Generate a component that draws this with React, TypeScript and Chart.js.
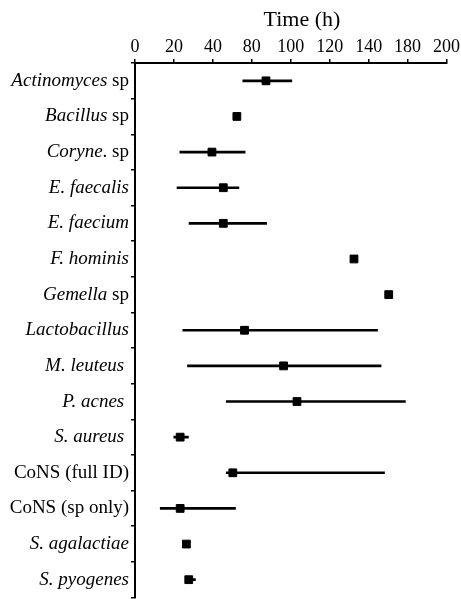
import React, { useEffect, useRef } from "react";
import { Chart, registerables } from "chart.js";

Chart.register(...registerables);

// Categories (full text) and their italic leading part
const categories = [
  "Actinomyces sp",
  "Bacillus sp",
  "Coryne. sp",
  "E. faecalis",
  "E. faecium",
  "F. hominis",
  "Gemella sp",
  "Lactobacillus",
  "M. leuteus ",
  "P. acnes ",
  "S. aureus ",
  "CoNS (full ID)",
  "CoNS (sp only)",
  "S. agalactiae",
  "S. pyogenes",
];
const italicParts = [
  "Actinomyces",
  "Bacillus",
  "Coryne",
  "E. faecalis",
  "E. faecium",
  "F. hominis",
  "Gemella",
  "Lactobacillus",
  "M. leuteus",
  "P. acnes",
  "S. aureus",
  "",
  "",
  "S. agalactiae",
  "S. pyogenes",
];

// Values in axis position units (axis 0..200, ticks every 25)
const medians = [84.1, 65.4, 49.4, 56.7, 56.7, 140.6, 162.9, 70.3, 95.4, 104.0, 29.0, 62.8, 29.0, 33.0, 34.5];
const lows = [69.2, null, 28.8, 27.0, 34.7, null, null, 30.7, 33.7, 58.6, 24.9, 58.6, 16.2, null, 33.0];
const highs = [100.7, null, 70.7, 66.7, 84.5, null, null, 155.7, 158.0, 173.6, 34.3, 160.2, 64.5, null, 38.8];

const tickLabels = ["0", "20", "40", "80", "100", "120", "140", "180", "200"];
const axisTitle = "Time (h)";

const FONT = "'Liberation Serif', 'Times New Roman', serif";

export default function App() {
  const ref = useRef<HTMLCanvasElement | null>(null);

  useEffect(() => {
    const canvas = ref.current;
    if (!canvas) return;

    const labelPlugin = {
      id: "labelPlugin",
      afterDraw(chart: any) {
        const ctx = chart.ctx;
        const yScale = chart.scales.y;
        ctx.save();
        ctx.fillStyle = "#000";
        ctx.textBaseline = "middle";
        ctx.textAlign = "right";
        const rightX = 129;
        categories.forEach((cat, i) => {
          const y = yScale.getPixelForValue(i);
          const ital = italicParts[i];
          const plain = cat.slice(ital.length);
          ctx.font = `19px ${FONT}`;
          const pw = plain ? ctx.measureText(plain).width : 0;
          if (plain) ctx.fillText(plain, rightX, y);
          if (ital) {
            ctx.font = `italic 19px ${FONT}`;
            ctx.fillText(ital, rightX - pw, y);
          }
        });
        // axis title
        ctx.font = `22px ${FONT}`;
        ctx.textAlign = "center";
        ctx.fillText(axisTitle, 302, 20);
        ctx.restore();
      },
    };

    const chart = new Chart(canvas, {
      data: {
        labels: categories,
        datasets: [
          {
            type: "bar",
            data: lows.map((l, i) => (l == null ? null : [l, highs[i] as number])) as any,
            backgroundColor: "#000",
            borderWidth: 0,
            barThickness: 2,
          },
          {
            type: "line",
            data: medians,
            showLine: false,
            pointStyle: "rect",
            pointRadius: 5.5,
            pointBackgroundColor: "#000",
            pointBorderColor: "#000",
            pointBorderWidth: 1,
          },
        ],
      } as any,
      options: {
        indexAxis: "y",
        animation: false,
        responsive: false,
        events: [],
        layout: { padding: { left: 0, right: 13, top: 0, bottom: 0 } },
        plugins: { legend: { display: false }, tooltip: { enabled: false } },
        scales: {
          x: {
            type: "linear",
            position: "top",
            min: 0,
            max: 200,
            afterFit(scale: any) {
              scale.height = 63;
            },
            ticks: {
              stepSize: 25,
              color: "#000",
              font: { family: FONT, size: 18 },
              padding: 1,
              maxRotation: 0,
              autoSkip: false,
              callback: (_v: any, idx: number) => tickLabels[idx] ?? "",
            },
            grid: {
              drawOnChartArea: false,
              drawTicks: true,
              tickLength: 4,
              color: "#000",
              lineWidth: 1.5,
            },
            border: { display: true, color: "#000", width: 2 },
          },
          y: {
            type: "category",
            offset: true,
            afterFit(scale: any) {
              scale.width = 135;
            },
            ticks: { display: false },
            grid: {
              offset: true,
              drawOnChartArea: false,
              drawTicks: true,
              tickLength: 4,
              color: "#000",
              lineWidth: 1.5,
            },
            border: { display: true, color: "#000", width: 2 },
          },
        },
      } as any,
      plugins: [labelPlugin],
    });

    return () => chart.destroy();
  }, []);

  return (
    <div
      style={{
        position: "fixed",
        top: 0,
        left: 0,
        width: 461,
        height: 599,
        overflow: "hidden",
        background: "#fff",
      }}
    >
      <canvas ref={ref} width={461} height={604} style={{ width: 461, height: 604, display: "block" }} />
    </div>
  );
}
